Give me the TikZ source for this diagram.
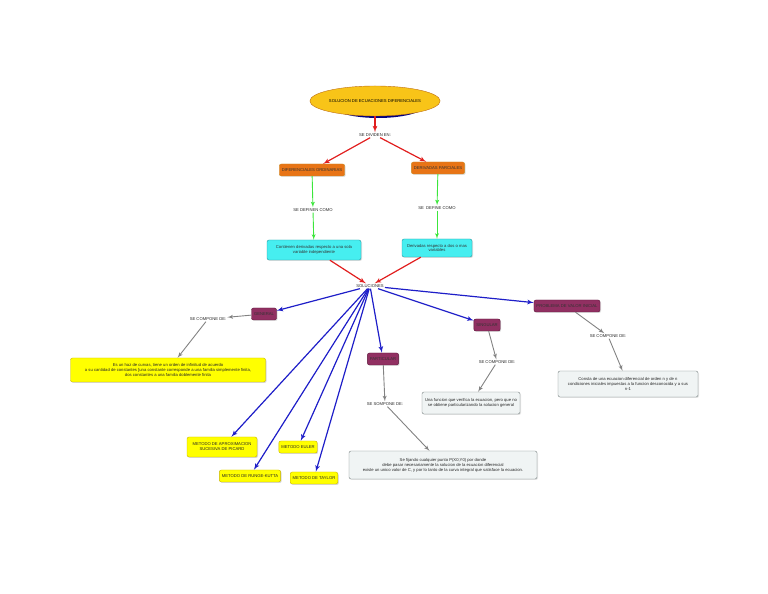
\documentclass[tikz,border=0pt]{standalone}
\usepackage{fontspec}
\setmainfont{Liberation Sans}
\usepackage{tikz}
\usetikzlibrary{arrows,shapes,shadows}

\definecolor{titlefill}{RGB}{248,196,24}
\definecolor{titleline}{RGB}{190,110,20}
\definecolor{orangefill}{RGB}{232,116,22}
\definecolor{orangeline}{RGB}{200,140,40}
\definecolor{cyanfill}{RGB}{70,238,240}
\definecolor{cyanline}{RGB}{40,150,160}
\definecolor{maroonfill}{RGB}{145,48,98}
\definecolor{maroonline}{RGB}{90,20,55}
\definecolor{yellowfill}{RGB}{255,255,0}
\definecolor{yellowline}{RGB}{200,180,0}
\definecolor{greyfill}{RGB}{240,244,244}
\definecolor{greyline}{RGB}{120,130,130}
\definecolor{redarrow}{RGB}{225,30,30}
\definecolor{greenarrow}{RGB}{60,230,60}
\definecolor{bluearrow}{RGB}{30,30,200}
\definecolor{greyarrow}{RGB}{130,130,130}

\begin{document}
\begin{tikzpicture}[>=latex',line join=bevel,
  font=\fontsize{4.2}{5}\selectfont,
  txt/.style={inner sep=1bp,text=black!85},
  ordbox/.style={draw=orangeline,fill=orangefill,rounded corners=2bp,inner sep=2.5bp,minimum height=12bp,text=black!80,drop shadow={shadow xshift=1bp,shadow yshift=-1bp,opacity=0.25}},
  cyanbox/.style={draw=cyanline,fill=cyanfill,rounded corners=2bp,inner sep=2.5bp,align=center,text=black!80,drop shadow={shadow xshift=1bp,shadow yshift=-1bp,opacity=0.25}},
  solbox/.style={draw=maroonline,fill=maroonfill,rounded corners=2bp,inner sep=2.5bp,minimum height=12bp,text=black!80,drop shadow={shadow xshift=1bp,shadow yshift=-1bp,opacity=0.25}},
  metbox/.style={draw=yellowline,fill=yellowfill,rounded corners=2bp,inner sep=2.5bp,align=center,text=black!85,drop shadow={shadow xshift=1bp,shadow yshift=-1bp,opacity=0.3}},
  notebox/.style={draw=greyline,fill=greyfill,rounded corners=2bp,inner sep=3bp,align=center,text=black!85,drop shadow={shadow xshift=1bp,shadow yshift=-1bp,opacity=0.2}},
  redarr/.style={->,draw=redarrow,line width=1.2bp},
  greenarr/.style={->,draw=greenarrow,line width=0.9bp},
  bluearr/.style={->,draw=bluearrow,line width=1.2bp},
  greyarr/.style={->,draw=greyarrow,line width=0.9bp}]
\useasboundingbox (0bp,0bp) rectangle (768bp,594bp);

% Node: title
\fill[blue!50!black] (378bp,491bp) ellipse (50bp and 15bp);
\node (title) [ellipse,draw=titleline,fill=titlefill,minimum width=100bp,minimum height=30bp,inner sep=0bp] at (375bp,493bp) {SOLUCION DE ECUACIONES DIFERENCIALES};

% Node: divid
\node (divid) [txt] at (375bp,459bp) {SE DIVIDEN EN:};

% Node: ord
\node (ord) [ordbox] at (312bp,424bp) {DIFERENCIALES ORDINARIAS};
% Node: parc
\node (parc) [ordbox] at (438bp,426bp) {DERIVADAS PARCIALES};

% Node: defn
\node (defn) [txt] at (313bp,384bp) {SE DEFINEN COMO};
% Node: defi
\node (defi) [txt] at (437bp,386bp) {SE\ \ DEFINE COMO};

% Node: cont
\node (cont) [cyanbox,minimum width=94bp,minimum height=20bp] at (314bp,344bp) {Contienen derivadas respecto a una sola\\variable independiente};
% Node: dos
\node (dos) [cyanbox,minimum width=70bp,minimum height=18bp] at (437bp,346bp) {Derivadas respecto a dos o mas\\variables};

% Node: sol
\node (sol) [txt] at (370bp,308bp) {SOLUCIONES};

% Node: gen, prob, sing, part
\node (gen) [solbox] at (264bp,280bp) {GENERAL};
\node (prob) [solbox] at (567bp,288bp) {PROBLEMA DE VALOR INICIAL};
\node (sing) [solbox] at (487bp,269bp) {SINGULAR};
\node (part) [solbox] at (383bp,235bp) {PARTICULAR};

% Node: compone labels
\node (gcomp) [txt] at (208bp,275bp) {SE COMPONE DE:};
\node (pcomp) [txt] at (608bp,258bp) {SE COMPONE DE:};
\node (scomp) [txt] at (497bp,232bp) {SE COMPONE DE:};
\node (tcomp) [txt] at (385bp,190bp) {SE SOMPONE DE:};

% Node: notes
\node (ghaz) [metbox,minimum width=195bp,minimum height=24bp] at (168bp,224bp) {Es un haz de curvas, tiene un orden de infinitud de acuerdo\\a su cantidad de constantes [una constante corresponde a una familia simplemente finita,\\dos constantes a una familia doblemente finita};
\node (pconsta) [notebox,minimum width=140bp,minimum height=26bp] at (628bp,210bp) {Consta de una ecuacion diferencial de orden n y de n\\condiciones iniciales impuestas a la funcion desconocida y a sus\\n-1};
\node (sfunc) [notebox,minimum width=98bp,minimum height=22bp] at (471bp,191bp) {Una funcion que verifica la ecuacion, pero que no\\se obtiene particularizando la solucion general};
\node (tfij) [notebox,minimum width=188bp,minimum height=28bp] at (443bp,129bp) {Se fijando cualquier punto P(X0,Y0) por donde\\debe pasar necesariamente la solucion de la ecuacion diferencial\\existe un unico valor de C, y por lo tanto de la curva integral que satisface la ecuacion.};

% Node: metodos
\node (picard) [metbox,minimum width=70bp,minimum height=20bp] at (222bp,147bp) {METODO DE APROXIMACION\\SUCESIVA DE PICARD};
\node (euler) [metbox,minimum height=12bp] at (298bp,147bp) {METODO EULER};
\node (runge) [metbox,minimum height=12bp] at (250bp,118bp) {METODO DE RUNGE-KUTTA};
\node (taylor) [metbox,minimum height=12bp] at (314bp,116bp) {METODO DE TAYLOR};

% Edge: title -> divid -> ord, parc
\draw [redarr] (title) -- (divid);
\draw [redarr] (divid) -- (ord);
\draw [redarr] (divid) -- (parc);

% Edge: ord -> defn -> cont, parc -> defi -> dos
\draw [greenarr] (ord) -- (defn);
\draw [greenarr] (defn) -- (cont);
\draw [greenarr] (parc) -- (defi);
\draw [greenarr] (defi) -- (dos);

% Edge: cont, dos -> sol
\draw [redarr] (cont) -- (sol);
\draw [redarr] (dos) -- (sol);

% Edge: sol -> soluciones
\draw [bluearr] (sol) -- (gen);
\draw [bluearr] (sol) -- (prob);
\draw [bluearr] (sol) -- (sing);
\draw [bluearr] (sol) -- (part);
\draw [bluearr] (sol) -- (picard);
\draw [bluearr] (sol) -- (euler);
\draw [bluearr] (sol) -- (runge);
\draw [bluearr] (sol) -- (taylor);

% Edge: compone
\draw [greyarr] (gen) -- (gcomp);
\draw [greyarr] (gcomp) -- (ghaz);
\draw [greyarr] (prob) -- (pcomp);
\draw [greyarr] (pcomp) -- (pconsta);
\draw [greyarr] (sing) -- (scomp);
\draw [greyarr] (scomp) -- (sfunc);
\draw [greyarr] (part) -- (tcomp);
\draw [greyarr] (tcomp) -- (tfij);
%
\end{tikzpicture}
\end{document}
